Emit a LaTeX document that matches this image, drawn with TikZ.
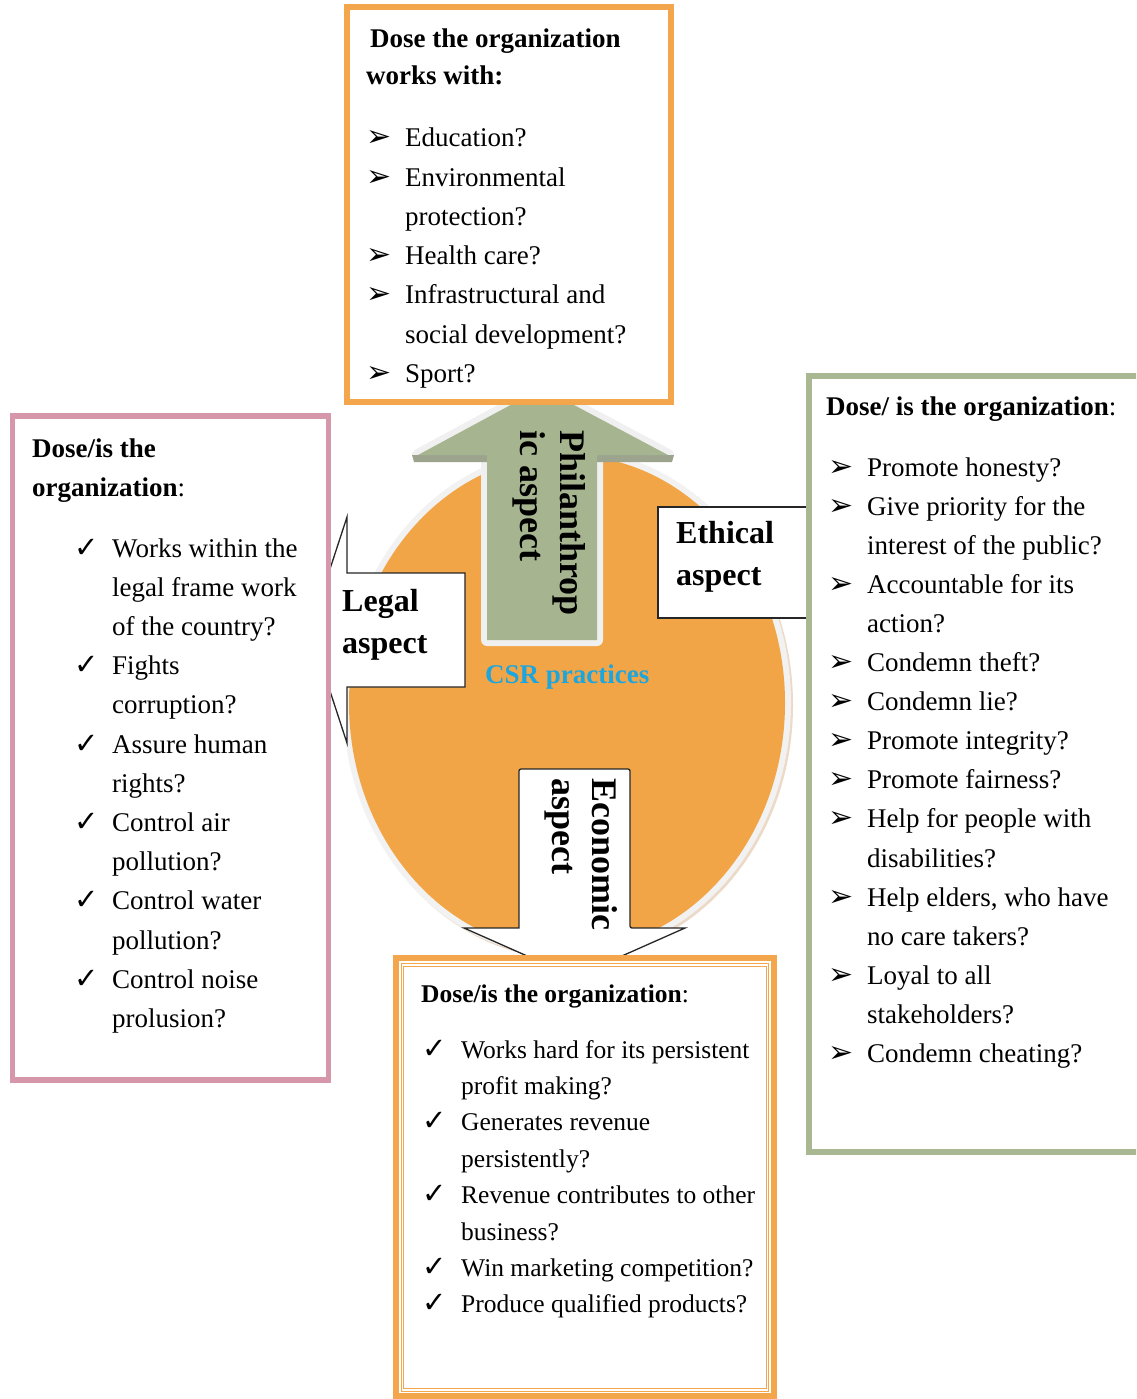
\documentclass[tikz,border=0pt]{standalone}
\usepackage{fontspec}
\setmainfont{Liberation Serif}
\newfontfamily\symfont{DejaVu Sans}
\usepackage{tikz}
\usepackage{xcolor}

\definecolor{csrorange}{HTML}{F1A547}
\definecolor{boxorange}{HTML}{F3A64B}
\definecolor{legalpink}{HTML}{D597A9}
\definecolor{ethicgreen}{HTML}{A9B792}
\definecolor{philgreen}{HTML}{A6B590}
\definecolor{philshade}{HTML}{9CA48E}
\definecolor{csrblue}{HTML}{1DA5DE}

\newcommand{\arrmark}{{\symfont\fontsize{30}{30}\selectfont\char"27A2}}
\newcommand{\chkmark}{{\symfont\fontsize{29}{29}\selectfont\char"2713}}

\begin{document}
\begin{tikzpicture}[
  x=1pt,y=-1pt,
  card/.style={draw,fill=white,line width=6pt},
  callout/.style={draw=black!85,fill=white,line width=1.3pt,line join=miter},
  head/.style={anchor=base west,inner sep=0pt,font=\fontsize{27}{38}\selectfont\bfseries},
  body/.style={anchor=base west,inner sep=0pt,font=\fontsize{27}{39.2}\selectfont},
  aspect/.style={anchor=base west,inner sep=0pt,font=\fontsize{32}{42}\selectfont\bfseries},
  turned/.style={anchor=base west,inner sep=0pt,rotate=-90,font=\fontsize{36}{40}\selectfont\bfseries}
]
\clip (0,0) rectangle (1136,1399);
\fill[white] (0,0) rectangle (1136,1399);

% CSR disc with its rim and shadow
\fill[brown!30!white] (569,705) ellipse (224 and 254);
\fill[gray!10] (567,703) ellipse (224 and 254);
\fill[csrorange] (567,703) ellipse (218 and 248);

% philanthropic arrow (up)
\draw[gray!12,line width=12pt,line join=round] (487,640) -- (487,455) -- (418,455) -- (542,388) -- (668,455) -- (597,455) -- (597,640) -- cycle;
\fill[philshade] (412,455) -- (487,455) -- (487,462) -- (414,462) -- cycle;
\fill[philshade] (597,455) -- (674,455) -- (672,462) -- (597,462) -- cycle;
\fill[philgreen] (487,640) -- (487,455) -- (418,455) -- (542,388) -- (668,455) -- (597,455) -- (597,640) -- cycle;

% economic arrow (down)
\draw[callout,rounded corners=2pt] (519,928) -- (519,769) -- (630,769) -- (630,928) [sharp corners] -- (685,928) -- (574.5,977) -- (464,928) -- cycle;

% legal and ethical callouts
\draw[callout] (465,573) -- (347,573) -- (347,517) -- (310,630) -- (347,743) -- (347,687) -- (465,687) -- cycle;
\draw[callout] (830,507) -- (658,507) -- (658,618) -- (830,618);

% the four boxes
\draw[card,draw=boxorange] (347,7) rectangle (671,402);
\draw[card,draw=legalpink,line width=5.5pt] (12.5,416) rectangle (328.5,1080);
\draw[card,draw=ethicgreen] (809,376) rectangle (1150,1152);
\draw[card,draw=boxorange] (396,958) rectangle (774,1396);
\draw[boxorange,line width=0.9pt,double=white,double distance=1.3pt] (402.5,965) rectangle (767.5,1390);

% labels on the disc
\node[turned] (phil) at (560,430) {\begin{tabular}[t]{@{}l@{}}Philanthrop\\ic aspect\end{tabular}};
\node[turned] (econ) at (592,778) {\begin{tabular}[t]{@{}l@{}}Economic\\aspect\end{tabular}};
\node[aspect] (legal) at (342,611) {\begin{tabular}[t]{@{}l@{}}Legal\\aspect\end{tabular}};
\node[aspect] (ethic) at (676,543) {\begin{tabular}[t]{@{}l@{}}Ethical\\aspect\end{tabular}};
\node[anchor=base west,inner sep=0pt,font=\fontsize{27}{30}\selectfont\bfseries,text=csrblue] (csr) at (485,683) {CSR practices};

% philanthropic box
\node[head,font=\fontsize{27}{37}\selectfont\bfseries] (philttl) at (366,48) {\begin{tabular}[t]{@{}l@{}}\hspace{4pt}Dose the organization\\works with:\end{tabular}};
\node[body] (phillist) at (366,147) {\begin{tabular}[t]{@{}p{39pt}@{}l@{}}
\arrmark & Education?\\
\arrmark & Environmental\\
 & protection?\\
\arrmark & Health care?\\
\arrmark & Infrastructural and\\
 & social development?\\
\arrmark & Sport?
\end{tabular}};

% legal box
\node[head,font=\fontsize{27}{39}\selectfont\bfseries] (legalttl) at (32,457) {\begin{tabular}[t]{@{}l@{}}Dose/is the\\organization{\mdseries:}\end{tabular}};
\node[body] (legallist) at (74,557) {\begin{tabular}[t]{@{}p{38pt}@{}l@{}}
\chkmark & Works within the\\
 & legal frame work\\
 & of the country?\\
\chkmark & Fights\\
 & corruption?\\
\chkmark & Assure human\\
 & rights?\\
\chkmark & Control air\\
 & pollution?\\
\chkmark & Control water\\
 & pollution?\\
\chkmark & Control noise\\
 & prolusion?
\end{tabular}};

% ethical box
\node[head] (ethicttl) at (826,415) {Dose/ is the organization{\mdseries:}};
\node[body,font=\fontsize{27}{39.1}\selectfont] (ethiclist) at (828,476) {\begin{tabular}[t]{@{}p{39pt}@{}l@{}}
\arrmark & Promote honesty?\\
\arrmark & Give priority for the\\
 & interest of the public?\\
\arrmark & Accountable for its\\
 & action?\\
\arrmark & Condemn theft?\\
\arrmark & Condemn lie?\\
\arrmark & Promote integrity?\\
\arrmark & Promote fairness?\\
\arrmark & Help for people with\\
 & disabilities?\\
\arrmark & Help elders, who have\\
 & no care takers?\\
\arrmark & Loyal to all\\
 & stakeholders?\\
\arrmark & Condemn cheating?
\end{tabular}};

% economic box
\node[head,font=\fontsize{25.5}{36}\selectfont\bfseries] (econttl) at (421,1002) {Dose/is the organization{\mdseries:}};
\node[body,font=\fontsize{25.5}{36.4}\selectfont] (econlist) at (422,1058) {\begin{tabular}[t]{@{}p{39pt}@{}l@{}}
\chkmark & Works hard for its persistent\\
 & profit making?\\
\chkmark & Generates revenue\\
 & persistently?\\
\chkmark & Revenue contributes to other\\
 & business?\\
\chkmark & Win marketing competition?\\
\chkmark & Produce qualified products?
\end{tabular}};
\end{tikzpicture}
\end{document}
